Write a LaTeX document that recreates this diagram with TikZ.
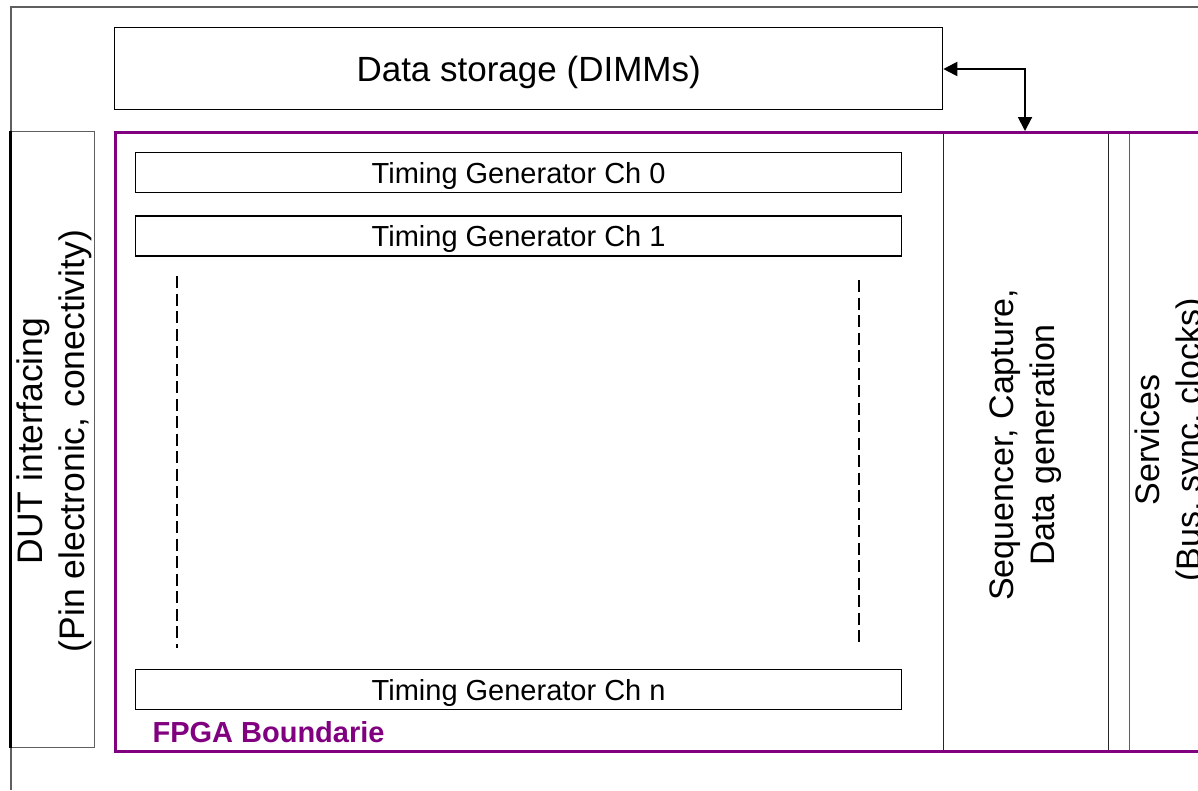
\documentclass[tikz,border=0pt]{standalone}
\usepackage{fontspec}
\setmainfont{Liberation Sans}
\usetikzlibrary{positioning,arrows.meta}
\definecolor{fpgapurple}{RGB}{128,0,128}
\definecolor{linegray}{RGB}{95,95,95}

\begin{document}
\begin{tikzpicture}[x=1pt,y=-1pt]
        \tikzstyle{blockbox}=[rectangle, draw=linegray, line width=1.3pt, inner sep=0pt, anchor=north west]
        \tikzstyle{tgbox}=[blockbox, draw=black, minimum width=766pt, minimum height=40pt, text depth=0pt, font=\fontsize{29}{33}\selectfont]
        \tikzstyle{sidetext}=[rotate=90, align=center, font=\fontsize{34}{41}\selectfont]
        \tikzstyle{gapline}=[line width=1.4pt, dash pattern=on 12pt off 5.5pt]
        \clip (0,0) rectangle (1198,790);
        \fill[white] (0,0) rectangle (1198,790);
        % outer frame
        \draw[linegray, line width=1.3pt] (11,790) -- (11,7) -- (1210,7);
        \node[blockbox, draw=black, minimum width=828pt, minimum height=82pt, text depth=0pt, font=\fontsize{35}{40}\selectfont] (dimm) at (114,27) {Data storage (DIMMs)};
        % DUT side
        \node[blockbox, minimum width=84pt, minimum height=616pt] (dut) at (10,131) {};
        \draw[line width=3pt] (dut.north west) -- (dut.south west);
        \node[sidetext, font=\fontsize{35.5}{42}\selectfont] (duttext) at (54,441) {DUT interfacing\\(Pin electronic, conectivity)};
        % right blocks
        \node[blockbox, draw=black!85, minimum width=165pt, minimum height=619pt] (seq) at (943,131) {};
        \node[sidetext] (seqtext) at (1026,445) {Sequencer, Capture,\\Data generation};
        \node[blockbox, minimum width=100pt, minimum height=619pt] (serv) at (1129,131) {};
        \node[sidetext] (servtext) at (1171,440) {Services\\(Bus, sync, clocks)};
        % FPGA
        \node[rectangle, draw=fpgapurple, line width=3pt, anchor=north west, minimum width=1120pt, minimum height=619pt] (fpga) at (114,131) {};
        \node[anchor=west, text=fpgapurple, font=\fontsize{29}{33}\selectfont\bfseries] (fpgalabel) at (149,732) {FPGA Boundarie};
        \node[tgbox] (ch0) at (135,152) {Timing Generator Ch 0};
        \node[tgbox, below=22pt of ch0] (ch1) {Timing Generator Ch 1};
        \node[tgbox] (chn) at (135,669) {Timing Generator Ch n};
        \coordinate (gapla) at (177,276);
        \coordinate (gaplb) at (177,648);
        \coordinate (gapra) at (859,280);
        \coordinate (gaprb) at (859,643);
        \draw[gapline] (gapla) -- (gaplb);
        \draw[gapline] (gapra) -- (gaprb);
        % memory link
        \coordinate (bend) at (1025,69);
        \draw[line width=2pt, {Triangle[length=14pt,width=14pt]}-{Triangle[length=14pt,width=14pt]}] (dimm.east |- bend) -- (bend) -- (bend |- fpga.north);
\end{tikzpicture}
\end{document}
